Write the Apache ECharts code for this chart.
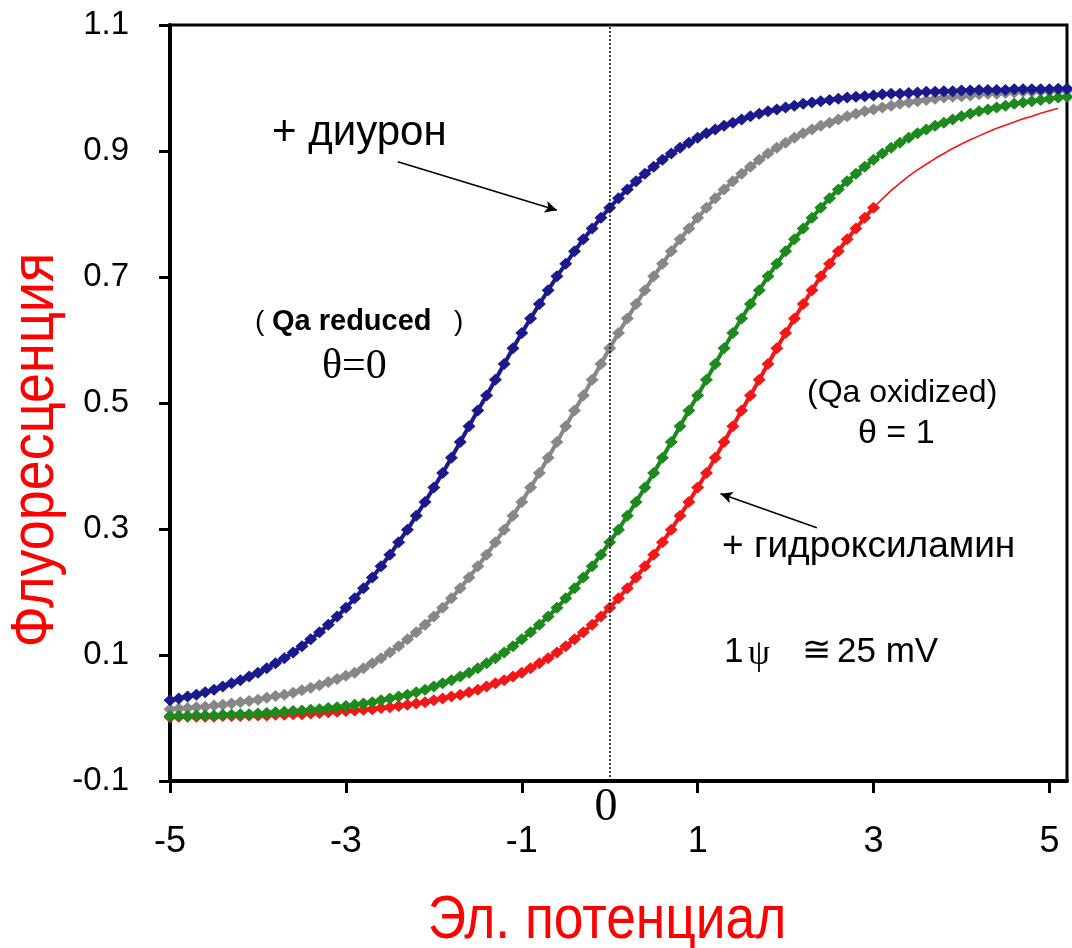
<!DOCTYPE html>
<html>
<head>
<meta charset="utf-8">
<script src="https://cdn.jsdelivr.net/npm/echarts@6/dist/echarts.min.js"></script>
<style>
  html, body { margin: 0; padding: 0; background: #fff; }
  #chart { width: 1072px; height: 948px; }
</style>
</head>
<body>
<div id="chart"></div>
<script>
// potential grid (x)
const potential = [
  -5.0, -4.9, -4.8, -4.7, -4.6, -4.5, -4.4, -4.3, -4.2, -4.1,
  -4.0, -3.9, -3.8, -3.7, -3.6, -3.5, -3.4, -3.3, -3.2, -3.1,
  -3.0, -2.9, -2.8, -2.7, -2.6, -2.5, -2.4, -2.3, -2.2, -2.1,
  -2.0, -1.9, -1.8, -1.7, -1.6, -1.5, -1.4, -1.3, -1.2, -1.1,
  -1.0, -0.9, -0.8, -0.7, -0.6, -0.5, -0.4, -0.3, -0.2, -0.1,
  0.0, 0.1, 0.2, 0.3, 0.4, 0.5, 0.6, 0.7, 0.8, 0.9,
  1.0, 1.1, 1.2, 1.3, 1.4, 1.5, 1.6, 1.7, 1.8, 1.9,
  2.0, 2.1, 2.2, 2.3, 2.4, 2.5, 2.6, 2.7, 2.8, 2.9,
  3.0, 3.1, 3.2, 3.3, 3.4, 3.5, 3.6, 3.7, 3.8, 3.9,
  4.0, 4.1, 4.2, 4.3, 4.4, 4.5, 4.6, 4.7, 4.8, 4.9,
  5.0, 5.1, 5.2
]

// + диурон (blue)
const diuron = [
  0.028, 0.031, 0.034, 0.037, 0.041, 0.045, 0.050, 0.055, 0.060, 0.066,
  0.072, 0.079, 0.087, 0.095, 0.104, 0.114, 0.125, 0.136, 0.148, 0.161,
  0.175, 0.190, 0.206, 0.223, 0.241, 0.259, 0.279, 0.299, 0.321, 0.343,
  0.366, 0.389, 0.413, 0.438, 0.463, 0.488, 0.512, 0.537, 0.562, 0.587,
  0.611, 0.634, 0.657, 0.679, 0.701, 0.721, 0.741, 0.760, 0.777, 0.794,
  0.810, 0.825, 0.839, 0.852, 0.864, 0.875, 0.886, 0.896, 0.905, 0.913,
  0.921, 0.928, 0.934, 0.940, 0.945, 0.950, 0.955, 0.959, 0.963, 0.966,
  0.969, 0.972, 0.975, 0.977, 0.979, 0.981, 0.983, 0.985, 0.986, 0.987,
  0.988, 0.990, 0.991, 0.991, 0.992, 0.993, 0.994, 0.994, 0.995, 0.995,
  0.996, 0.996, 0.997, 0.997, 0.997, 0.997, 0.998, 0.998, 0.998, 0.998,
  0.998, 0.999, 0.999
]

// control (grey)
const control = [
  0.014, 0.015, 0.016, 0.017, 0.018, 0.020, 0.021, 0.023, 0.025, 0.027,
  0.029, 0.032, 0.035, 0.037, 0.040, 0.044, 0.048, 0.052, 0.057, 0.062,
  0.067, 0.072, 0.079, 0.087, 0.095, 0.104, 0.114, 0.125, 0.136, 0.148,
  0.161, 0.175, 0.190, 0.206, 0.223, 0.241, 0.259, 0.279, 0.299, 0.321,
  0.343, 0.366, 0.389, 0.413, 0.438, 0.463, 0.488, 0.512, 0.537, 0.562,
  0.587, 0.611, 0.634, 0.657, 0.679, 0.701, 0.721, 0.741, 0.760, 0.777,
  0.794, 0.810, 0.825, 0.839, 0.852, 0.864, 0.875, 0.886, 0.896, 0.905,
  0.913, 0.921, 0.928, 0.934, 0.940, 0.945, 0.950, 0.955, 0.959, 0.963,
  0.966, 0.969, 0.972, 0.975, 0.977, 0.979, 0.981, 0.983, 0.985, 0.986,
  0.987, 0.988, 0.990, 0.991, 0.991, 0.992, 0.993, 0.994, 0.994, 0.995,
  0.995, 0.996, 0.996
]

// green
const greenCurve = [
  0.003, 0.003, 0.003, 0.004, 0.004, 0.004, 0.005, 0.005, 0.006, 0.006,
  0.007, 0.008, 0.009, 0.010, 0.011, 0.012, 0.013, 0.014, 0.016, 0.017,
  0.019, 0.021, 0.023, 0.025, 0.028, 0.031, 0.034, 0.037, 0.041, 0.045,
  0.050, 0.055, 0.060, 0.066, 0.072, 0.079, 0.087, 0.095, 0.104, 0.114,
  0.125, 0.136, 0.148, 0.161, 0.175, 0.190, 0.206, 0.223, 0.241, 0.259,
  0.279, 0.299, 0.321, 0.343, 0.366, 0.389, 0.413, 0.438, 0.463, 0.488,
  0.512, 0.537, 0.562, 0.587, 0.611, 0.634, 0.657, 0.679, 0.701, 0.721,
  0.741, 0.760, 0.777, 0.794, 0.810, 0.825, 0.839, 0.852, 0.864, 0.875,
  0.886, 0.896, 0.905, 0.913, 0.921, 0.928, 0.934, 0.940, 0.945, 0.950,
  0.955, 0.959, 0.963, 0.966, 0.969, 0.972, 0.975, 0.977, 0.979, 0.981,
  0.983, 0.985, 0.986
]

// + гидроксиламин (red), markers up to 3.0, then a plain line
const hydroxylamine = [
  0.001, 0.002, 0.002, 0.002, 0.002, 0.002, 0.003, 0.003, 0.003, 0.004,
  0.004, 0.004, 0.005, 0.005, 0.006, 0.006, 0.007, 0.008, 0.009, 0.010,
  0.011, 0.012, 0.013, 0.014, 0.016, 0.017, 0.019, 0.021, 0.023, 0.025,
  0.028, 0.031, 0.034, 0.037, 0.041, 0.045, 0.050, 0.055, 0.060, 0.066,
  0.072, 0.079, 0.087, 0.095, 0.104, 0.114, 0.125, 0.136, 0.148, 0.161,
  0.175, 0.190, 0.206, 0.223, 0.241, 0.259, 0.279, 0.299, 0.321, 0.343,
  0.366, 0.389, 0.413, 0.438, 0.463, 0.488, 0.512, 0.537, 0.562, 0.587,
  0.611, 0.634, 0.657, 0.679, 0.701, 0.721, 0.741, 0.760, 0.777, 0.794,
  0.810
]
const hydroxylamineTail = [
  0.810, 0.824, 0.837, 0.849, 0.860, 0.870, 0.879, 0.888, 0.896, 0.904,
  0.911, 0.918, 0.924, 0.930, 0.936, 0.941, 0.946, 0.951, 0.955, 0.960,
  0.964, 0.968
]

const xTicks = [-5, -3, -1, 1, 3, 5]
const yTicks = [-0.1, 0.1, 0.3, 0.5, 0.7, 0.9, 1.1]

function pairs(xs, ys) {
  return ys.map((y, i) => [xs[i], y])
}

const sans = 'Liberation Sans, Arial, sans-serif'
const serif = 'Liberation Serif, Times New Roman, serif'

function beads(name, color, xs, ys) {
  return {
    name: name,
    type: 'line',
    data: pairs(xs, ys),
    symbol: 'diamond',
    symbolSize: [13, 12],
    showAllSymbol: true,
    itemStyle: { color: color },
    lineStyle: { color: color, width: 4 },
    z: 3
  }
}

function label(text, x, y, size, family, extra) {
  return {
    type: 'text',
    z: 10,
    style: Object.assign({
      text: text, x: x, y: y,
      fontSize: size, fontFamily: family,
      fill: '#000',
      align: 'left', verticalAlign: 'middle',
      textAlign: 'left', textVerticalAlign: 'middle'
    }, extra || {})
  }
}

const chart = echarts.init(document.getElementById('chart'))

const option = {
  animation: false,
  backgroundColor: '#fff',
  grid: {
    left: 170, right: 5, top: 25, bottom: 167,
    outerBoundsMode: 'none',
    containLabel: false,
    show: true, borderColor: '#000', borderWidth: 3,
    backgroundColor: 'transparent'
  },
  xAxis: {
    type: 'value',
    min: -5, max: 5.2, interval: 2,
    axisLine: { onZero: false, lineStyle: { color: '#000', width: 4 } },
    axisTick: { show: true, length: 12, lineStyle: { color: '#000', width: 3 } },
    axisLabel: {
      color: '#000', fontSize: 36, fontFamily: sans, margin: 43,
      showMaxLabel: false,
      formatter: v => (xTicks.indexOf(v) >= 0 ? String(v) : '')
    },
    splitLine: { show: false }
  },
  yAxis: {
    type: 'value',
    min: -0.1, max: 1.1, interval: 0.2,
    axisLine: { onZero: false, lineStyle: { color: '#000', width: 4 } },
    axisTick: { show: true, length: 11, lineStyle: { color: '#000', width: 3 } },
    axisLabel: {
      color: '#000', fontSize: 33, fontFamily: sans, margin: 41,
      formatter: v => {
        const t = yTicks.find(k => Math.abs(k - v) < 1e-6)
        return t === undefined ? '' : t.toFixed(1)
      }
    },
    splitLine: { show: false }
  },
  series: [
    Object.assign(beads('control', '#878787', potential, control), {
      markLine: {
        silent: true,
        symbol: ['none', 'none'],
        label: { show: false },
        lineStyle: { color: '#000', type: [2, 2], width: 1.5 },
        data: [{ xAxis: 0 }]
      }
    }),
    beads('+ гидроксиламин', '#f21818', potential, hydroxylamine),
    {
      name: 'tail',
      type: 'line',
      data: pairs(potential.slice(80), hydroxylamineTail),
      symbol: 'none',
      lineStyle: { color: '#f21818', width: 1.6 },
      z: 2
    },
    beads('green', '#1c8a1c', potential, greenCurve),
    Object.assign(beads('+ диурон', '#1a1a8c', potential, diuron), {
      markLine: {
        silent: true,
        symbol: ['none', 'arrow'],
        symbolSize: [9, 12],
        label: { show: false },
        lineStyle: { color: '#000', type: 'solid', width: 1.5 },
        data: [
          [{ coord: [-2.41, 0.883] }, { coord: [-0.60, 0.806] }],
          [{ coord: [2.355, 0.302] }, { coord: [1.26, 0.356] }]
        ]
      }
    })
  ],
  graphic: [
    // axis titles, drawn condensed like the original
    {
      type: 'text', x: 607, y: 921, scaleX: 0.86, z: 10,
      style: {
        text: 'Эл. потенциал', fontSize: 62, fontFamily: sans, fill: '#f00',
        align: 'center', verticalAlign: 'middle', textAlign: 'center', textVerticalAlign: 'middle'
      }
    },
    {
      type: 'text', x: 36, y: 450, rotation: Math.PI / 2, scaleX: 0.87, z: 10,
      style: {
        text: 'Флуоресценция', fontSize: 62, fontFamily: sans, fill: '#f00',
        align: 'center', verticalAlign: 'middle', textAlign: 'center', textVerticalAlign: 'middle'
      }
    },
    label('0', 606, 808, 46, serif, { align: 'center', textAlign: 'center' }),
    label('+ диурон', 272, 133, 42, sans),
    label('(', 255, 322, 28, sans),
    label('Qa reduced', 272, 322, 29, sans, { fontWeight: 'bold' }),
    label(')', 454, 322, 28, sans),
    label('θ=0', 322, 367, 42, serif),
    label('(Qa oxidized)', 807, 393, 32, sans),
    label('θ = 1', 858, 434, 34, sans),
    label('+ гидроксиламин', 722, 547, 37, sans),
    label('1', 724, 652, 35, sans),
    label('ψ', 748, 655, 35, serif),
    label('≅', 802, 652, 35, serif),
    label('25 mV', 837, 652, 35, sans)
  ]
}

chart.setOption(option)
</script>
</body>
</html>
